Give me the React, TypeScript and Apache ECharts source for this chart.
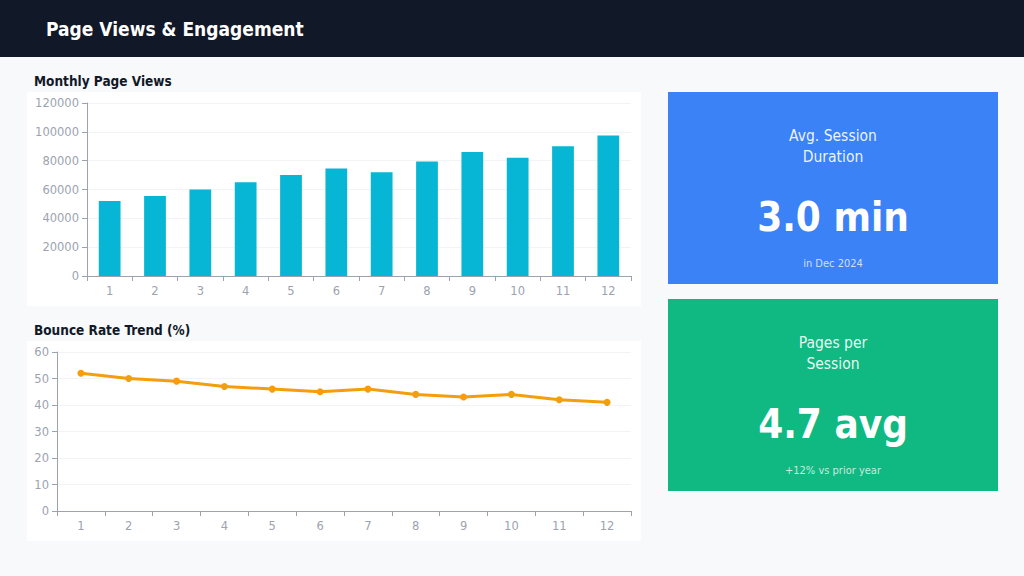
import React, { useEffect, useRef } from "react";
import * as echarts from "echarts";

const months = ["1", "2", "3", "4", "5", "6", "7", "8", "9", "10", "11", "12"];
const pageViews = [52000, 55500, 60000, 65000, 70000, 74500, 72000, 79500, 86000, 82000, 90000, 97500];
const bounceRate = [52, 50, 49, 47, 46, 45, 46, 44, 43, 44, 42, 41];

const dashboardTitle = "Page Views & Engagement";
const barTitle = "Monthly Page Views";
const lineTitle = "Bounce Rate Trend (%)";
const kpiTitles = ["Avg. Session\nDuration", "Pages per\nSession"];
const kpiValues = ["3.0 min", "4.7 avg"];
const kpiNotes = ["in Dec 2024", "+12% vs prior year"];

const FONT = "'DejaVu Sans', Verdana, sans-serif";
const CFONT = "'DejaVu Sans Condensed', 'DejaVu Sans', sans-serif";

export default function App() {
  const ref = useRef<HTMLDivElement>(null);
  useEffect(() => {
    document.body.style.margin = "0";
    const chart = echarts.init(ref.current!, null, { renderer: "svg" });
    const axisLabel = { color: "#9ca3af", fontSize: 11.5, fontFamily: FONT };
    const axisLine = { show: true, lineStyle: { color: "#9ca3af" } };
    const splitLine = { show: true, lineStyle: { color: "#f1f3f5" } };

    const cardColors = ["#3b82f6", "#10b981"];
    const cardTops = [92, 299];
    const cards: any[] = [];
    cardTops.forEach((top, i) => {
      cards.push({
        type: "rect",
        shape: { x: 668, y: top, width: 330, height: 192 },
        style: { fill: cardColors[i] },
        z: 1,
      });
      cards.push({
        type: "text",
        x: 833,
        y: top + 54.5,
        style: {
          text: kpiTitles[i],
          fill: "rgba(255,255,255,0.92)",
          font: `15.5px ${CFONT}`,
          align: "center",
          verticalAlign: "middle",
          lineHeight: 21,
        },
        z: 2,
      });
      cards.push({
        type: "text",
        x: 833,
        y: top + 125,
        style: {
          text: kpiValues[i],
          fill: "#ffffff",
          font: `bold 40px ${CFONT}`,
          align: "center",
          verticalAlign: "middle",
        },
        z: 2,
      });
      cards.push({
        type: "text",
        x: 833,
        y: top + 171,
        style: {
          text: kpiNotes[i],
          fill: "rgba(255,255,255,0.75)",
          font: `11px ${CFONT}`,
          align: "center",
          verticalAlign: "middle",
        },
        z: 2,
      });
    });

    chart.setOption({
      animation: false,
      backgroundColor: "#f7f9fb",
      graphic: [
        { type: "rect", shape: { x: 0, y: 0, width: 1024, height: 57 }, style: { fill: "#111827" }, z: 0 },
        {
          type: "text",
          x: 46,
          y: 29,
          style: { text: dashboardTitle, fill: "#ffffff", font: `bold 19px ${CFONT}`, verticalAlign: "middle" },
          z: 2,
        },
        {
          type: "text",
          x: 34,
          y: 81,
          style: { text: barTitle, fill: "#111827", font: `bold 13.5px ${CFONT}`, verticalAlign: "middle" },
          z: 2,
        },
        {
          type: "text",
          x: 34,
          y: 330,
          style: { text: lineTitle, fill: "#111827", font: `bold 13.5px ${CFONT}`, verticalAlign: "middle" },
          z: 2,
        },
        { type: "rect", shape: { x: 27, y: 92, width: 614, height: 214 }, style: { fill: "#ffffff" }, z: -10 },
        { type: "rect", shape: { x: 27, y: 341, width: 614, height: 200 }, style: { fill: "#ffffff" }, z: -10 },
        ...cards,
      ],
      grid: [
        { left: 87, right: 393, top: 103, bottom: 300 },
        { left: 57, right: 393, top: 352, bottom: 65 },
      ],
      xAxis: [
        {
          type: "category",
          gridIndex: 0,
          data: months,
          axisLine,
          axisTick: { show: true, lineStyle: { color: "#9ca3af" } },
          axisLabel: { ...axisLabel, margin: 9 },
        },
        {
          type: "category",
          gridIndex: 1,
          data: months,
          axisLine,
          axisTick: { show: true, lineStyle: { color: "#9ca3af" } },
          axisLabel: { ...axisLabel, margin: 9 },
        },
      ],
      yAxis: [
        {
          type: "value",
          gridIndex: 0,
          min: 0,
          max: 120000,
          interval: 20000,
          axisLine,
          axisTick: { show: true, lineStyle: { color: "#9ca3af" } },
          axisLabel: { ...axisLabel, formatter: (v: number) => String(v) },
          splitLine,
        },
        {
          type: "value",
          gridIndex: 1,
          min: 0,
          max: 60,
          interval: 10,
          axisLine,
          axisTick: { show: true, lineStyle: { color: "#9ca3af" } },
          axisLabel,
          splitLine,
        },
      ],
      series: [
        {
          type: "bar",
          xAxisIndex: 0,
          yAxisIndex: 0,
          data: pageViews,
          barWidth: "48%",
          itemStyle: { color: "#06b6d4" },
        },
        {
          type: "line",
          xAxisIndex: 1,
          yAxisIndex: 1,
          data: bounceRate,
          symbol: "circle",
          symbolSize: 7,
          lineStyle: { color: "#f59e0b", width: 3 },
          itemStyle: { color: "#f59e0b" },
        },
      ],
    });
    return () => chart.dispose();
  }, []);
  return <div ref={ref} style={{ position: "absolute", left: 0, top: 0, width: 1024, height: 576 }} />;
}
